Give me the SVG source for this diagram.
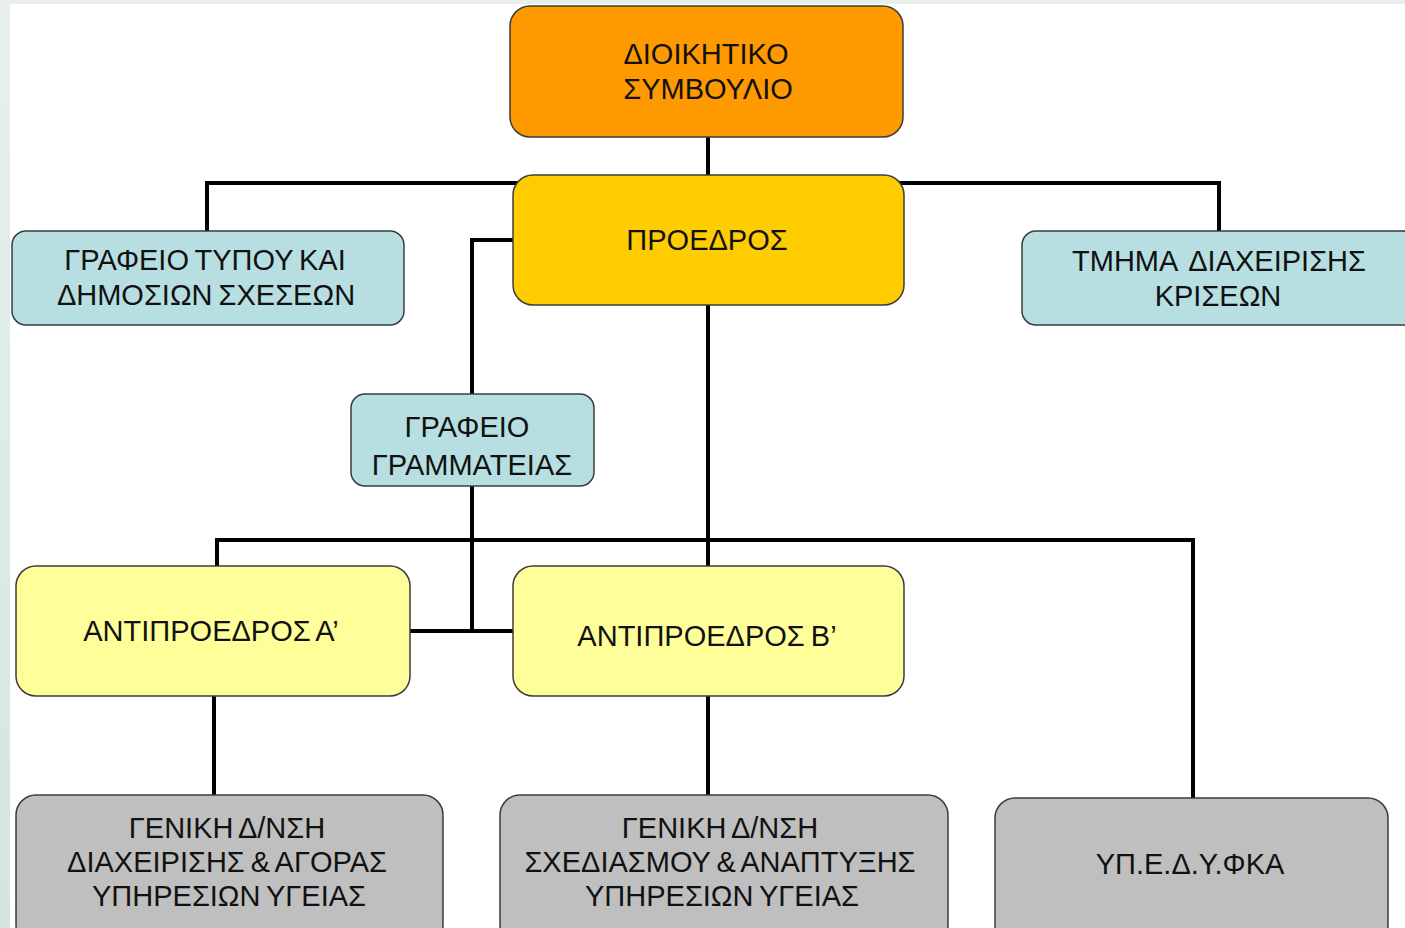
<svg xmlns="http://www.w3.org/2000/svg" width="1405" height="928" viewBox="0 0 1405 928">
<defs>
<linearGradient id="side" x1="0" y1="0" x2="0" y2="1">
<stop offset="0" stop-color="#e8f0ee"/>
<stop offset="1" stop-color="#d3e6de"/>
</linearGradient>
<style>
.box{stroke:#3c3c3c;stroke-width:1.5}
.orange{fill:#ff9900}
.gold{fill:#ffcc00}
.blue{fill:#b7dfe2}
.yellow{fill:#ffff99}
.gray{fill:#bfbfbf}
.t{font-family:"Liberation Sans",Arial,sans-serif;font-size:29px;fill:#111;text-anchor:middle;word-spacing:-2px}
.ws{word-spacing:5px}
.c{fill:none;stroke:#000;stroke-width:4;stroke-linejoin:miter}
</style>
</defs>
<rect x="0" y="0" width="1405" height="928" fill="#ffffff"/>
<rect x="0" y="0" width="1405" height="4" fill="#e6efec"/>
<rect x="0" y="0" width="10" height="928" fill="url(#side)"/>

<g id="connectors">
<path class="c" d="M708,137 V175"/>
<path class="c" d="M207,231 V183 H1219 V231"/>
<path class="c" d="M513,240 H472 V394"/>
<path class="c" d="M472,486 V631 M410,631 H513"/>
<path class="c" d="M708,305 V566"/>
<path class="c" d="M217,566 V540 H1193 V798"/>
<path class="c" d="M214,696 V795"/>
<path class="c" d="M708,696 V795"/>
</g>

<g id="node-dioikitiko">
<rect class="box orange" x="510" y="6" width="393" height="131" rx="20"/>
<text class="t" x="706" y="64">ΔΙΟΙΚΗΤΙΚΟ</text>
<text class="t" x="708" y="99">ΣΥΜΒΟΥΛΙΟ</text>
</g>

<g id="node-proedros">
<rect class="box gold" x="513" y="175" width="391" height="130" rx="20"/>
<text class="t" x="707" y="250">ΠΡΟΕΔΡΟΣ</text>
</g>

<g id="node-grafeio-typou">
<rect class="box blue" x="12" y="231" width="392" height="94" rx="14"/>
<text class="t" x="205" y="270">ΓΡΑΦΕΙΟ ΤΥΠΟΥ ΚΑΙ</text>
<text class="t" x="206" y="305">ΔΗΜΟΣΙΩΝ ΣΧΕΣΕΩΝ</text>
</g>

<g id="node-tmima-krisewn">
<rect class="box blue" x="1022" y="231" width="395" height="94" rx="14"/>
<text class="t ws" x="1219" y="271">ΤΜΗΜΑ ΔΙΑΧΕΙΡΙΣΗΣ</text>
<text class="t" x="1218" y="306">ΚΡΙΣΕΩΝ</text>
</g>

<g id="node-grammateia">
<rect class="box blue" x="351" y="394" width="243" height="92" rx="14"/>
<text class="t" x="467" y="437">ΓΡΑΦΕΙΟ</text>
<text class="t" x="472" y="475">ΓΡΑΜΜΑΤΕΙΑΣ</text>
</g>

<g id="node-antiproedros-a">
<rect class="box yellow" x="16" y="566" width="394" height="130" rx="20"/>
<text class="t" x="211" y="641">ΑΝΤΙΠΡΟΕΔΡΟΣ Α’</text>
</g>

<g id="node-antiproedros-b">
<rect class="box yellow" x="513" y="566" width="391" height="130" rx="20"/>
<text class="t" x="707" y="646">ΑΝΤΙΠΡΟΕΔΡΟΣ Β’</text>
</g>

<g id="node-gen-dnsi-agoras">
<rect class="box gray" x="16" y="795" width="427" height="150" rx="20"/>
<text class="t" x="227" y="838">ΓΕΝΙΚΗ Δ/ΝΣΗ</text>
<text class="t" x="227" y="872">ΔΙΑΧΕΙΡΙΣΗΣ &amp; ΑΓΟΡΑΣ</text>
<text class="t" x="229" y="906">ΥΠΗΡΕΣΙΩΝ ΥΓΕΙΑΣ</text>
</g>

<g id="node-gen-dnsi-schediasmou">
<rect class="box gray" x="500" y="795" width="448" height="150" rx="20"/>
<text class="t" x="720" y="838">ΓΕΝΙΚΗ Δ/ΝΣΗ</text>
<text class="t" x="720" y="872">ΣΧΕΔΙΑΣΜΟΥ &amp; ΑΝΑΠΤΥΞΗΣ</text>
<text class="t" x="722" y="906">ΥΠΗΡΕΣΙΩΝ ΥΓΕΙΑΣ</text>
</g>

<g id="node-ypedy">
<rect class="box gray" x="995" y="798" width="393" height="147" rx="20"/>
<text class="t" x="1190" y="874">ΥΠ.Ε.Δ.Υ.ΦΚΑ</text>
</g>
</svg>
